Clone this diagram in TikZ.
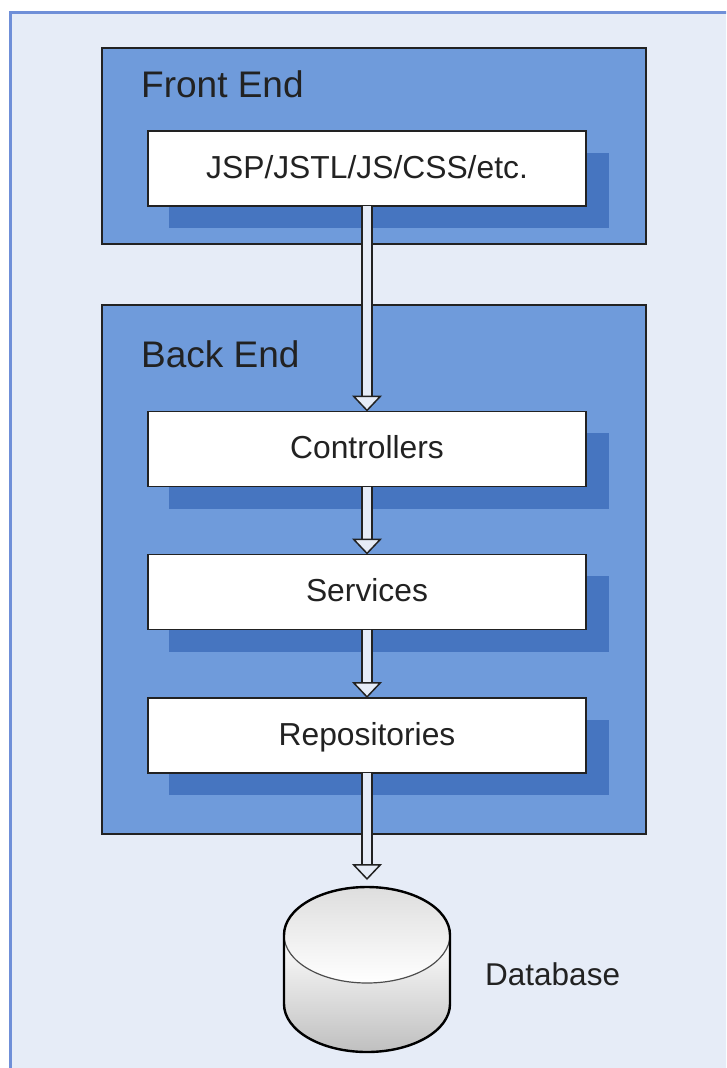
\documentclass[tikz,border=0pt]{standalone}
\usepackage{fontspec}
\setmainfont{Liberation Sans}
\usetikzlibrary{arrows.meta,shadows}
\definecolor{framefill}{HTML}{E6ECF7}
\definecolor{frameline}{HTML}{6F8FD8}
\definecolor{tierfill}{HTML}{6F9BDB}
\definecolor{tiershadow}{HTML}{4675C0}
\definecolor{inkdark}{HTML}{222222}
\tikzset{
  tierbox/.style={draw=inkdark,line width=1.5pt,fill=tierfill,inner sep=0pt,outer sep=0pt,minimum width=544pt},
  layerbox/.style={draw=inkdark,line width=1.5pt,fill=white,inner sep=0pt,outer sep=0pt,
    minimum width=438pt,minimum height=75pt,text height=23pt,text depth=4pt,text=inkdark,
    font=\fontsize{31.8}{36}\selectfont,
    drop shadow={shadow xshift=22pt,shadow yshift=-22pt,shadow scale=1.005,fill=tiershadow,opacity=1}},
  tierlabel/.style={anchor=base west,inner sep=0pt,text=inkdark,font=\fontsize{37}{42}\selectfont},
  flowarrow/.style={draw=inkdark,double=framefill,double distance=8.5pt,line width=1.6pt,
    -{Triangle[fill=framefill,length=16pt,width=30pt,line width=1.5pt]}},
}
\begin{document}
\begin{tikzpicture}[x=1pt,y=-1pt]
      \useasboundingbox (0,0) rectangle (726,1068);
      \clip (0,0) rectangle (726,1068);
      \draw[draw=frameline,line width=3pt,fill=framefill] (10,12) rectangle (740,1085);
      \draw
        (374,146) node[tierbox,minimum height=196pt] (frontend){}
        (374,569.5) node[tierbox,minimum height=529pt] (backend){}
        (141,97) node[tierlabel] (frontlabel){Front End}
        (141,367) node[tierlabel] (backlabel){Back End}
        (367,168.5) node[layerbox] (jsp){JSP/JSTL/JS/CSS/etc.}
        (367,449) node[layerbox] (controllers){Controllers}
        (367,592) node[layerbox] (services){Services}
        (367,735.5) node[layerbox] (repositories){Repositories};
      % database drum
      \coordinate (dbtop) at (367,880);
      \fill[top color=white,bottom color=black!25]
        (284,935) -- (284,1004) arc[start angle=180,end angle=360,x radius=83,y radius=-48]
        -- (450,935) -- cycle;
      \draw[line width=1.2pt,draw=black!70,top color=black!13,bottom color=white]
        (367,935) ellipse[x radius=83,y radius=48];
      \draw[line width=2.4pt,draw=black]
        (284,935) arc[start angle=180,end angle=0,x radius=83,y radius=-48]
        -- (450,1004) arc[start angle=360,end angle=180,x radius=83,y radius=-48] -- cycle;
      \node[anchor=base west,inner sep=0pt,text=inkdark,font=\fontsize{31.5}{36}\selectfont] (dblabel) at (485,985) {Database};
      \begin{scope}
        \draw[flowarrow] (jsp) to (controllers);
        \draw[flowarrow] (controllers) to (services);
        \draw[flowarrow] (services) to (repositories);
        \draw[flowarrow] (repositories) to (dbtop);
      \end{scope}
    \end{tikzpicture}
\end{document}
